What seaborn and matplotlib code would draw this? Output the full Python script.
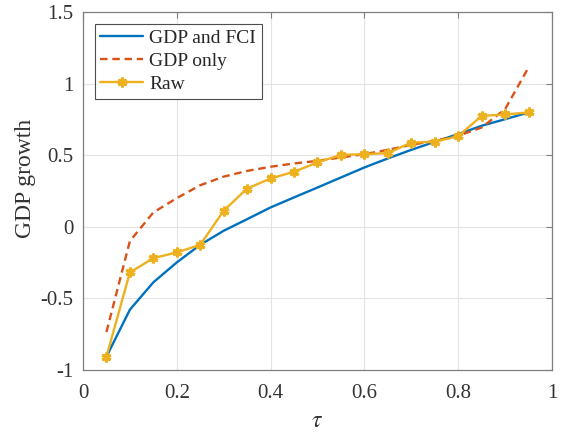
import numpy as np
import pandas as pd
import matplotlib
matplotlib.use("Agg")
import matplotlib.pyplot as plt
import seaborn as sns

# quantile levels
tau = [0.05, 0.10, 0.15, 0.20, 0.25, 0.30, 0.35, 0.40, 0.45, 0.50,
       0.55, 0.60, 0.65, 0.70, 0.75, 0.80, 0.85, 0.90, 0.95]

gdp_fci = [-0.907, -0.579, -0.388, -0.249, -0.126, -0.028, 0.053, 0.135, 0.205, 0.274,
           0.344, 0.414, 0.477, 0.537, 0.593, 0.647, 0.705, 0.751, 0.798]

gdp_only = [-0.735, -0.10, 0.10, 0.20, 0.29, 0.35, 0.39, 0.419, 0.442, 0.460,
            0.484, 0.507, 0.537, 0.572, 0.600, 0.635, 0.693, 0.821, 1.112]

raw = [-0.907, -0.319, -0.219, -0.179, -0.126, 0.112, 0.267, 0.337, 0.384, 0.449,
       0.502, 0.507, 0.514, 0.588, 0.593, 0.633, 0.774, 0.784, 0.798]

BLUE = "#0072BD"
RED = "#D95319"
YELLOW = "#EDB120"

sns.set_theme(style="white")
plt.rcParams["font.family"] = ["Liberation Serif", "DejaVu Serif"]
plt.rcParams["mathtext.fontset"] = "stix"

fig = plt.figure(figsize=(5.63, 4.34), dpi=100)
ax = fig.add_axes([0.1474, 0.1475, 0.833, 0.825])

df = pd.DataFrame({"tau": tau, "fci": gdp_fci, "only": gdp_only, "raw": raw})

sns.lineplot(data=df, x="tau", y="fci", ax=ax, color=BLUE, lw=1.7, label="GDP and FCI")
sns.lineplot(data=df, x="tau", y="only", ax=ax, color=RED, lw=1.7, label="GDP only")
ax.lines[-1].set_dashes([3.2, 2.0])
sns.lineplot(data=df, x="tau", y="raw", ax=ax, color=YELLOW, lw=1.7, label="Raw",
             marker=(6, 2, 0), markersize=7, markeredgewidth=2.2,
             markeredgecolor=YELLOW)

ax.set_xlim(0, 1)
ax.set_ylim(-1, 1.5)
ax.set_xticks([0, 0.2, 0.4, 0.6, 0.8, 1])
ax.set_xticklabels(["0", "0.2", "0.4", "0.6", "0.8", "1"])
ax.set_yticks([-1, -0.5, 0, 0.5, 1, 1.5])
ax.set_yticklabels(["-1", "-0.5", "0", "0.5", "1", "1.5"])
ax.grid(True, color="#e3e3e3", lw=0.8)
ax.set_axisbelow(True)

for s in ax.spines.values():
    s.set_color("#7f7f7f")
    s.set_linewidth(0.9)
ax.tick_params(direction="in", length=4, width=0.8, color="#7f7f7f",
               top=True, right=True, labelsize=15, labelcolor="#333333")
ax.tick_params(axis="x", pad=10)
ax.tick_params(axis="y", pad=7)

ax.set_xlabel(r"$\tau$", fontsize=17, color="#333333", labelpad=6)
ax.set_ylabel("GDP growth", fontsize=17, color="#333333")
ax.yaxis.set_label_coords(-0.101, 0.535)

leg = ax.legend(loc="upper left", fontsize=14, frameon=True, fancybox=False,
                edgecolor="#4d4d4d", framealpha=1, handlelength=2.2,
                borderpad=0.3, labelspacing=0.28, handletextpad=0.3,
                borderaxespad=0.6)
leg.get_frame().set_linewidth(0.8)

fig.savefig("out.png", dpi=100)
